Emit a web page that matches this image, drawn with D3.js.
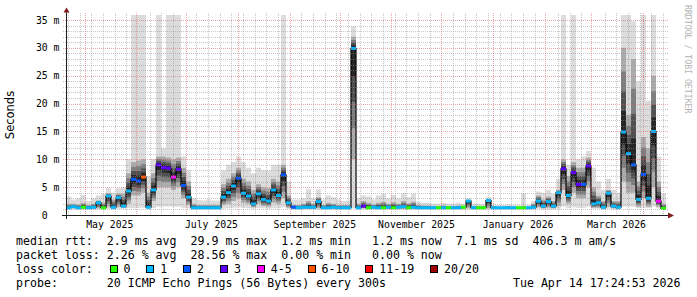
<!DOCTYPE html>
<html>
<head>
<meta charset="utf-8">
<script src="https://cdn.jsdelivr.net/npm/d3@7"></script>
<style>
html, body { margin: 0; padding: 0; background: #fff; }
svg { display: block; }
text { font-family: "DejaVu Sans Mono", monospace; fill: #000; white-space: pre; }
</style>
</head>
<body>
<svg id="chart" width="697" height="297"></svg>
<script>
// one bin = 3 days, 120 bins over the last 360 days
const endTime = Date.UTC(2026, 3, 14, 17, 24, 53)
const DAY = 864e5
const binDays = 3
const startTime = endTime - 360 * DAY

// median rtt (ms)
const median = [
    1.3, 1.5, 1.3, 1.4, 1.3, 1.4, 2.2, 1.3, 3.4, 1.4,
    3.1, 1.6, 4.3, 6.4, 6.1, 6.8, 1.4, 4.5, 9.0, 8.5,
    8.4, 6.8, 8.2, 5.3, 3.2, 1.3, 1.3, 1.3, 1.3, 1.3,
    1.3, 3.2, 4.0, 5.2, 6.6, 3.9, 3.4, 2.0, 3.8, 2.8,
    2.5, 4.5, 3.5, 7.2, 2.2, 1.4, 1.3, 1.4, 1.4, 1.4,
    2.4, 1.3, 1.3, 1.4, 1.3, 1.3, 1.3, 29.9, 1.3, 1.6,
    1.3, 1.4, 1.3, 1.3, 1.4, 1.3, 1.4, 1.5, 1.3, 1.4,
    1.3, 1.3, 1.3, 1.3, 1.3, 1.3, 1.3, 1.3, 1.3, 1.4,
    2.5, 1.3, 1.3, 1.3, 2.6, 1.3, 1.3, 1.3, 1.3, 1.3,
    1.3, 1.3, 1.3, 1.4, 2.5, 1.6, 2.4, 1.6, 4.0, 8.3,
    3.5, 7.6, 5.5, 5.5, 8.8, 2.0, 2.2, 1.4, 3.9, 1.6,
    1.4, 14.9, 11.0, 9.0, 2.8, 7.3, 3.0, 15.0, 2.5, 1.2
]
// lost pings out of 20
const loss = [
    1, 1, 1, 0, 1, 1, 1, 0, 1, 1,
    1, 1, 1, 2, 2, 8, 1, 1, 3, 3,
    3, 4, 3, 2, 1, 1, 1, 1, 1, 1,
    1, 1, 1, 1, 2, 1, 1, 1, 1, 1,
    1, 1, 1, 2, 1, 2, 1, 1, 1, 1,
    1, 1, 1, 1, 1, 1, 1, 1, 1, 3,
    0, 1, 1, 0, 1, 0, 1, 1, 0, 1,
    1, 1, 1, 1, 0, 1, 0, 1, 1, 0,
    1, 1, 0, 0, 1, 1, 1, 1, 1, 1,
    0, 0, 1, 1, 1, 1, 1, 1, 1, 3,
    1, 3, 3, 2, 3, 1, 1, 1, 1, 1,
    1, 1, 1, 2, 1, 2, 1, 1, 4, 0
]
// smoke: fastest ping
const smokeMin = [
    1.0, 1.0, 1.0, 1.0, 1.0, 1.0, 1.0, 1.0, 1.1, 1.0,
    1.1, 1.1, 1.2, 1.2, 1.3, 1.3, 1.0, 1.2, 1.5, 1.5,
    1.5, 1.5, 1.5, 1.3, 1.2, 1.0, 1.0, 1.0, 1.0, 1.0,
    1.0, 1.1, 1.2, 1.3, 1.4, 1.3, 1.2, 1.1, 1.2, 1.2,
    1.1, 1.2, 1.2, 1.4, 1.1, 1.0, 1.0, 1.0, 1.0, 1.0,
    1.0, 1.0, 1.0, 1.0, 1.0, 1.0, 1.0, 1.2, 1.0, 1.0,
    1.0, 1.0, 1.0, 1.0, 1.0, 1.0, 1.0, 1.0, 1.0, 1.0,
    1.0, 1.0, 1.0, 1.0, 1.0, 1.0, 1.0, 1.0, 1.0, 1.0,
    1.0, 1.0, 1.0, 1.0, 1.0, 1.0, 1.0, 1.0, 1.0, 1.0,
    1.0, 1.0, 1.0, 1.0, 1.1, 1.0, 1.0, 1.0, 1.1, 1.5,
    1.2, 1.4, 1.3, 1.3, 1.5, 1.1, 1.1, 1.0, 1.1, 1.0,
    1.0, 1.5, 1.5, 1.5, 1.2, 1.3, 1.2, 1.5, 1.2, 1.0
]
// smoke: lower edge of the dense part
const smokeLow = [
    1.1, 1.2, 1.1, 1.1, 1.1, 1.1, 1.2, 1.1, 1.5, 1.1,
    1.5, 1.3, 2.0, 3.5, 3.5, 4.0, 1.2, 2.5, 5.0, 5.0,
    5.0, 4.5, 5.0, 3.0, 1.8, 1.1, 1.1, 1.1, 1.1, 1.1,
    1.1, 1.8, 2.0, 2.5, 3.0, 2.2, 2.0, 1.4, 2.0, 1.6,
    1.5, 2.2, 2.0, 3.0, 1.3, 1.1, 1.1, 1.1, 1.1, 1.1,
    1.2, 1.1, 1.1, 1.1, 1.1, 1.1, 1.1, 10.0, 1.1, 1.2,
    1.1, 1.1, 1.1, 1.1, 1.1, 1.1, 1.1, 1.1, 1.1, 1.1,
    1.1, 1.1, 1.1, 1.1, 1.1, 1.1, 1.1, 1.1, 1.1, 1.1,
    1.2, 1.1, 1.1, 1.1, 1.2, 1.1, 1.1, 1.1, 1.1, 1.1,
    1.1, 1.1, 1.1, 1.1, 1.4, 1.2, 1.3, 1.2, 1.6, 4.5,
    2.0, 4.0, 3.0, 3.0, 5.0, 1.3, 1.3, 1.1, 1.5, 1.2,
    1.1, 6.0, 4.0, 4.0, 1.5, 3.0, 1.5, 5.0, 1.5, 1.1
]
// smoke: upper edge of the dense part
const smokeHigh = [
    2.0, 2.0, 1.9, 2.2, 1.8, 2.0, 2.6, 2.2, 3.9, 2.8,
    3.8, 3.8, 7.5, 9.5, 9.8, 10.0, 4.0, 7.5, 10.5, 10.5,
    10.3, 10.0, 10.3, 8.5, 6.0, 2.0, 1.8, 1.8, 1.8, 1.8,
    1.8, 5.5, 6.5, 7.5, 8.5, 6.5, 6.0, 4.5, 5.5, 5.0,
    4.8, 6.5, 6.0, 9.0, 3.5, 1.8, 1.8, 2.0, 2.5, 2.0,
    3.2, 1.8, 2.2, 2.0, 1.8, 1.8, 1.8, 32.0, 2.0, 2.5,
    2.2, 1.9, 2.2, 2.4, 2.0, 2.3, 2.0, 2.5, 2.1, 2.4,
    1.8, 1.7, 1.7, 1.6, 1.6, 1.7, 1.6, 1.6, 1.7, 1.6,
    2.7, 1.6, 1.6, 1.6, 2.8, 1.6, 1.5, 1.5, 1.6, 1.5,
    1.5, 1.6, 1.5, 2.0, 3.5, 2.8, 3.3, 2.5, 4.5, 10.0,
    7.0, 9.5, 8.5, 8.5, 10.3, 5.0, 3.5, 2.5, 4.5, 2.5,
    2.5, 30.0, 18.0, 28.0, 6.0, 14.0, 12.0, 25.0, 6.0, 2.0
]
// smoke: slowest ping (values above the top are clipped)
const smokeMax = [
    3.3, 2.8, 3.0, 3.6, 2.5, 3.0, 3.5, 3.8, 4.8, 4.0,
    4.8, 5.0, 10.0, 40, 40, 40, 7.0, 10.0, 40, 12.0,
    40, 40, 40, 10.5, 8.0, 3.0, 2.7, 2.6, 2.8, 2.6,
    2.6, 8.0, 9.0, 9.5, 10.5, 9.5, 8.5, 7.5, 8.5, 8.0,
    8.0, 9.0, 9.0, 40, 6.0, 2.8, 2.8, 3.0, 4.6, 3.0,
    4.6, 2.8, 3.5, 3.2, 2.8, 2.5, 2.6, 33.9, 3.0, 3.5,
    3.3, 2.8, 3.5, 3.8, 3.0, 3.6, 3.0, 3.9, 3.2, 3.8,
    2.4, 2.2, 2.2, 2.0, 2.0, 2.2, 2.0, 2.0, 2.2, 2.0,
    3.0, 2.0, 2.0, 2.0, 3.2, 1.9, 1.8, 1.8, 1.9, 1.8,
    1.8, 3.9, 1.8, 2.5, 4.2, 4.0, 4.5, 3.8, 6.5, 40,
    9.0, 40, 10.0, 10.5, 11.5, 8.5, 6.0, 4.5, 6.5, 4.5,
    4.0, 40, 40, 34.8, 24, 40, 20.5, 40, 10.5, 3.9
]

const lossColors = [
    { label: "0", max: 0, color: "#26ff00" },
    { label: "1", max: 1, color: "#00b8ff" },
    { label: "2", max: 2, color: "#0059ff" },
    { label: "3", max: 3, color: "#5e00ff" },
    { label: "4-5", max: 5, color: "#ff00ff" },
    { label: "6-10", max: 10, color: "#ff5500" },
    { label: "11-19", max: 19, color: "#ff0000" },
    { label: "20/20", max: 20, color: "#a00000" }
]
const yTicks = [0, 5, 10, 15, 20, 25, 30, 35]
const yMax = 35.9
const rttStats = "median rtt:  2.9 ms avg  29.9 ms max  1.2 ms min   1.2 ms now  7.1 ms sd  406.3 m am/s"
const lossStats = "packet loss: 2.26 % avg  28.56 % max  0.00 % min   0.00 % now"
const probeText = "probe:       20 ICMP Echo Pings (56 Bytes) every 300s"
const stampText = "Tue Apr 14 17:24:53 2026"

const svg = d3.select("#chart")
const x = d3.scaleUtc().domain([new Date(startTime), new Date(endTime)]).range([66, 666])
const y = d3.scaleLinear().domain([0, yMax]).range([215, 15])

const bins = median.map((m, i) => ({
    t: new Date(startTime + i * binDays * DAY),
    t1: new Date(startTime + (i + 1) * binDays * DAY),
    med: m, loss: loss[i],
    lo: smokeMin[i], q1: smokeLow[i], q3: smokeHigh[i], hi: smokeMax[i]
}))
// extra point so the step curves reach the right edge
const stepped = bins.concat([{ ...bins[bins.length - 1], t: new Date(endTime) }])

const lossColor = n => lossColors.find(c => n <= c.max).color

svg.append("rect").attr("width", 697).attr("height", 297).attr("fill", "#fff")
svg.append("clipPath").attr("id", "plotClip")
    .append("rect").attr("x", 66).attr("y", 15).attr("width", 600).attr("height", 200)

const plot = svg.append("g").attr("clip-path", "url(#plotClip)")

const band = (lo, hi) => d3.area()
    .curve(d3.curveStepAfter)
    .x(d => x(d.t))
    .y0(d => y(lo(d)))
    .y1(d => y(hi(d)))

// smoke, light outer layer then darker layers closing on the median
plot.append("path").datum(stepped).attr("fill", "#dcdcdc")
    .attr("d", band(d => d.lo, d => d.hi))

const shades = [
    { f: 1, color: "#ababab" },
    { f: 0.72, color: "#7e7e7e" },
    { f: 0.48, color: "#515151" },
    { f: 0.25, color: "#272727" }
]
shades.forEach(s => {
    plot.append("path").datum(stepped).attr("fill", s.color)
        .attr("d", band(d => d.med - (d.med - d.q1) * s.f, d => d.med + (d.q3 - d.med) * s.f))
})

// grid
const grid = svg.append("g").attr("shape-rendering", "crispEdges")
const minorY = d3.range(1, 36).filter(v => v % 5 != 0)
grid.selectAll(".hminor").data(minorY).join("line")
    .attr("x1", 63).attr("x2", 669)
    .attr("y1", d => Math.round(y(d)) + 0.5).attr("y2", d => Math.round(y(d)) + 0.5)
    .attr("stroke", "rgba(143,143,143,0.5)").attr("stroke-dasharray", "1,1")

const months = x.ticks(d3.utcMonth)
const weeks = x.ticks(d3.utcMonday).filter(w => !months.some(m => Math.abs(m - w) < 2 * DAY))
grid.selectAll(".vminor").data(weeks).join("line")
    .attr("x1", d => Math.round(x(d)) + 0.5).attr("x2", d => Math.round(x(d)) + 0.5)
    .attr("y1", 13).attr("y2", 215)
    .attr("stroke", "rgba(143,143,143,0.5)").attr("stroke-dasharray", "1,1")

grid.selectAll(".hmajor").data(yTicks.slice(1)).join("line")
    .attr("x1", 63).attr("x2", 669)
    .attr("y1", d => Math.round(y(d)) + 0.5).attr("y2", d => Math.round(y(d)) + 0.5)
    .attr("stroke", "rgba(222,79,79,0.5)").attr("stroke-dasharray", "1,1")
grid.selectAll(".vmajor").data(months).join("line")
    .attr("x1", d => Math.round(x(d)) + 0.5).attr("x2", d => Math.round(x(d)) + 0.5)
    .attr("y1", 13).attr("y2", 215)
    .attr("stroke", "rgba(222,79,79,0.5)").attr("stroke-dasharray", "1,1")

// median with loss colours
const medLine = d3.line().curve(d3.curveStepAfter).x(d => x(d.t)).y(d => y(d.med))
plot.append("path").datum(stepped)
    .attr("fill", "none").attr("stroke", "#000").attr("stroke-width", 1.2)
    .attr("d", medLine)
plot.selectAll(".lossSeg").data(bins).join("rect")
    .attr("x", d => x(d.t))
    .attr("width", d => x(d.t1) - x(d.t))
    .attr("y", d => y(d.med) - 1.5)
    .attr("height", 3)
    .attr("fill", d => lossColor(d.loss))

// axes
const axes = svg.append("g").attr("shape-rendering", "crispEdges")
axes.append("line").attr("x1", 62).attr("x2", 669).attr("y1", 215.5).attr("y2", 215.5)
    .attr("stroke", "#1f1f1f")
axes.append("line").attr("x1", 66.5).attr("x2", 66.5).attr("y1", 219).attr("y2", 11)
    .attr("stroke", "#1f1f1f")
svg.append("path").attr("d", "M63.5,12.5 L69.5,12.5 L66.5,7.5 Z").attr("fill", "#801f1f")
svg.append("path").attr("d", "M668,212.5 L668,218.5 L674,215.5 Z").attr("fill", "#801f1f")

svg.selectAll(".ylab").data(yTicks).join("text")
    .attr("x", 59.5)
    .attr("y", d => y(d) + 3.5)
    .attr("text-anchor", "end")
    .style("font-size", "9.8px")
    .text(d => d == 0 ? "0  " : d + " m")

const labelMonths = months.filter(m => m.getUTCMonth() % 2 == 0)
svg.selectAll(".xlab").data(labelMonths).join("text")
    .attr("x", d => x(d3.utcDay.offset(d, 15)))
    .attr("y", 228)
    .attr("text-anchor", "middle")
    .style("font-size", "9.8px")
    .text(d => d3.utcFormat("%B %Y")(d))

svg.append("text")
    .attr("transform", "translate(14,115) rotate(-90)")
    .attr("text-anchor", "middle")
    .style("font-family", "'DejaVu Sans', sans-serif")
    .style("font-size", "11.5px")
    .text("Seconds")

svg.append("text")
    .attr("transform", "translate(685,5) rotate(90)")
    .style("font-size", "8.2px")
    .style("fill", "#b4b4b4")
    .text("RRDTOOL / TOBI OETIKER")

// legend
const legend = svg.append("g").style("font-size", "11.6px")
legend.append("text").attr("x", 16).attr("y", 245.3).text(rttStats)
legend.append("text").attr("x", 16).attr("y", 259.2).text(lossStats)
legend.append("text").attr("x", 16).attr("y", 273).text("loss color:")
legend.append("text").attr("x", 16).attr("y", 286.9).text(probeText)
legend.append("text").attr("x", 680.5).attr("y", 286.9).attr("text-anchor", "end").text(stampText)

let bx = 109.5
lossColors.forEach(c => {
    legend.append("rect").attr("x", bx + 0.5).attr("y", 265.5).attr("width", 7).attr("height", 7)
        .attr("fill", c.color).attr("stroke", "#000").attr("shape-rendering", "crispEdges")
    legend.append("text").attr("x", bx + 14).attr("y", 273).text(c.label)
    bx += 29.8 + 7 * c.label.length
})
</script>
</body>
</html>
